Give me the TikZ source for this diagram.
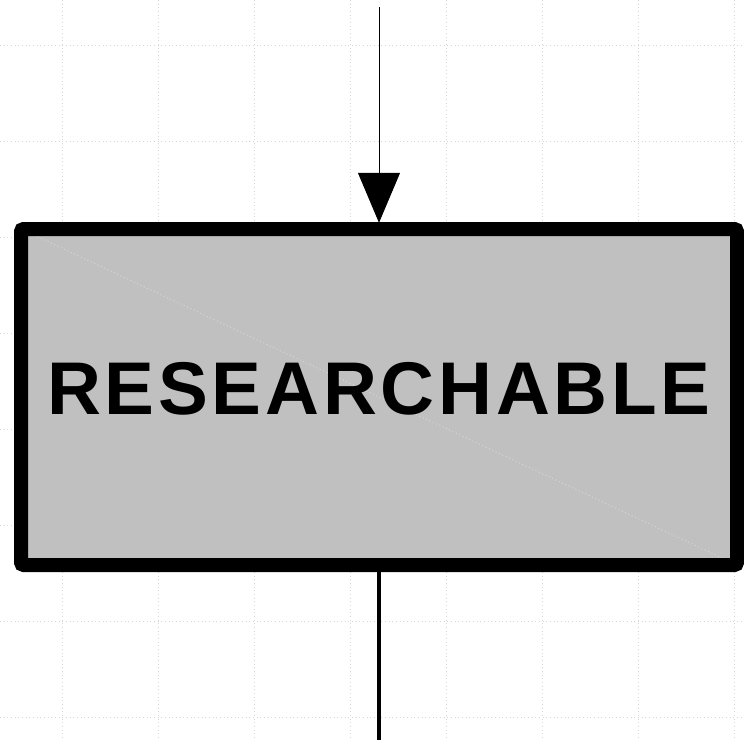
\documentclass[tikz,border=0pt]{standalone}
\usepackage{fontspec}
\setmainfont{Liberation Sans}
\newfontfamily\boxfont[LetterSpace=5]{Liberation Sans}
\usetikzlibrary{arrows.meta}
\definecolor{gridgray}{HTML}{D6D6D6}
\definecolor{boxgray}{HTML}{C0C0C0}

\begin{document}
\begin{tikzpicture}[x=0.75pt,y=-0.75pt]
    % Define styles
    \tikzstyle{gridline} = [gridgray, line width=0.75pt, dotted]
    \tikzstyle{bigbox} = [rectangle, draw, fill=boxgray, line width=10.5pt, rounded corners=2pt, minimum width=537pt, minimum height=252pt, text depth=13.5pt, font=\boxfont\bfseries\fontsize{56}{60}\selectfont,
        path picture={\draw [gridline] (path picture bounding box.north west) -- (path picture bounding box.south east);}]
    \tikzstyle{arrow} = [line width=0.75pt, -{Triangle[length=37.5pt,width=31.5pt,round]}]
    \tikzstyle{flowline} = [line width=3.5pt]

    \useasboundingbox (0,0) rectangle (744,740);

    % Grid
    \foreach \x in {62,158,...,734} \draw [gridline] (\x,0) -- (\x,740);
    \foreach \y in {45,141,...,717} \draw [gridline] (0,\y) -- (744,\y);

    % Components
    \node [bigbox] (researchable) at (379,397) {RESEARCHABLE};
    \coordinate (in) at (379,7);
    \coordinate (out) at (379,745);

    % Connections
    \draw [arrow] (in) -- (researchable);
    \draw [flowline] (researchable) -- (out);
\end{tikzpicture}
\end{document}
